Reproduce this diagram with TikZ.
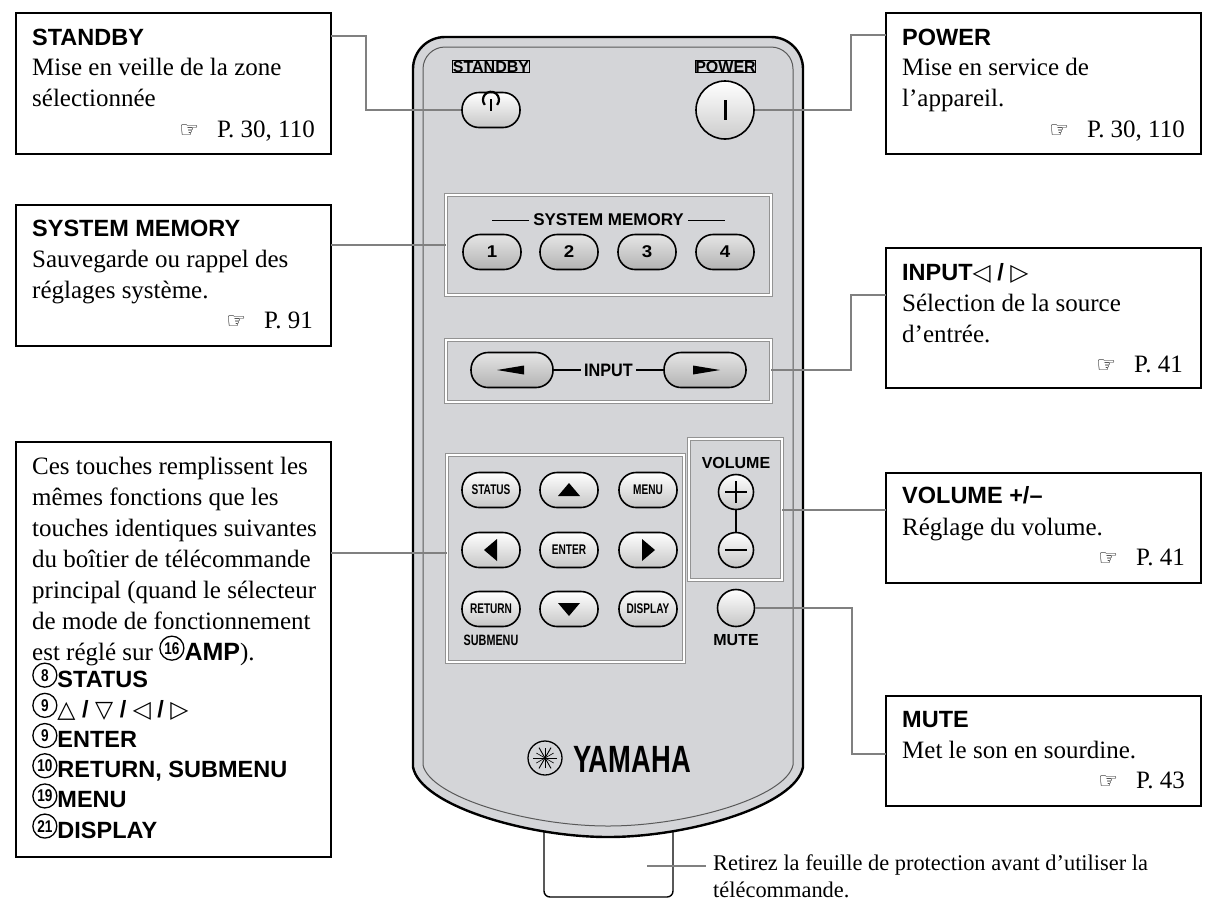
\documentclass[tikz,border=0pt]{standalone}
\usepackage{fontspec}
\setmainfont{Liberation Serif}
\setsansfont{Liberation Sans}
\newfontfamily\djv{DejaVu Sans}
\usetikzlibrary{calc}
\definecolor{rgray}{RGB}{212,213,216}
\definecolor{lead}{RGB}{128,128,128}
\newcommand{\cn}[1]{\tikz[x=1pt,y=1pt,baseline=-6pt]\node[circle,draw,line width=1.3pt,inner sep=0pt,minimum size=24pt,font=\fontsize{17}{17}\sffamily\bfseries]{\scalebox{0.8}[1]{#1}};}
\newcommand{\hand}{{\djv\fontsize{22}{22}\selectfont ☞}}
\newcommand{\cond}[1]{\scalebox{0.72}[1]{#1}}
\begin{document}
\begin{tikzpicture}[x=1pt,y=-1pt,
  box/.style={draw=black,line width=2pt},
  hd/.style={anchor=base west,inner sep=0,font=\fontsize{23.5}{28}\sffamily\bfseries},
  bd/.style={anchor=base west,inner sep=0,align=left,font=\fontsize{25}{31}\selectfont},
  rf/.style={anchor=base east,inner sep=0,font=\fontsize{25}{31}\selectfont},
  ld/.style={draw=lead,line width=2pt},
  panel/.style={draw=gray!85,line width=1.2pt,double=white,double distance=1.2pt},
  wbtn/.style={draw=black,line width=1.6pt,rounded corners=17pt,minimum width=58pt,minimum height=35pt,top color=white,bottom color=gray!45,font=\fontsize{14}{14}\sffamily\bfseries,inner sep=0},
  gbtn/.style={wbtn,top color=gray!20,bottom color=gray!60},
  rl/.style={inner sep=0,font=\fontsize{16}{16}\sffamily\bfseries}
]
\useasboundingbox (0,0) rectangle (1210,903);
% tab
\draw[line width=1.4pt,rounded corners=6pt,fill=white] (544,820) -- (544,897) -- (673,897) -- (673,820);
% remote body
\draw[line width=2.4pt,fill=rgray] (413,767) [rounded corners=32pt]-- (413,37) -- (803,37) [sharp corners]-- (803,767)
  .. controls (796,805) and (690,837) .. (608,837) .. controls (526,837) and (420,805) .. (413,767) -- cycle;
\draw[line width=1pt,gray!70!black] (423,765) [rounded corners=22pt]-- (423,47) -- (793,47) [sharp corners]-- (793,765)
  .. controls (786,797) and (688,826) .. (608,826) .. controls (528,826) and (430,797) .. (423,765);
% top buttons
\node[draw,line width=1pt,inner sep=1.5pt,rl] (lsb) at (491,66.5) {STANDBY};
\node[draw,line width=1pt,inner sep=1.5pt,rl] (lpw) at (725.5,66.5) {POWER};
\node[wbtn] (sb) at (491,110) {};
\draw[line width=2.2pt] ($(sb)+(6.1,-5.1)$) arc[start angle=-40,end angle=220,radius=8pt];
\draw[line width=2.2pt] ($(sb)+(0,-11)$) -- ($(sb)+(0,1)$);
\node[circle,draw=black,line width=1.6pt,minimum size=58pt,top color=white,bottom color=gray!40] (pw) at (725,110) {};
\draw[line width=3pt] ($(pw)+(0,-10)$) -- ($(pw)+(0,10)$);
% system memory panel
\draw[panel] (446,195) rectangle (771,295);
\node[rl,font=\fontsize{17}{17}\sffamily\bfseries] (smt) at (608.5,220) {SYSTEM MEMORY};
\draw[line width=1pt] ($(smt.west)+(-4,0)$) -- (492,220);
\draw[line width=1pt] ($(smt.east)+(4,0)$) -- (725,220);
\foreach \n/\x in {1/492,2/569,3/647,4/725}
  \node[gbtn,font=\fontsize{17}{17}\sffamily\bfseries] (m\n) at (\x,252) {\scalebox{1.1}[1]{\n}};
% input panel
\draw[panel] (446,340) rectangle (771,402);
\node[gbtn,minimum width=82pt] (il) at (512,370) {};
\node[gbtn,minimum width=82pt] (ir) at (705,370) {};
\fill ($(il)+(-15,0)$) -- ($(il)+(12,-4.5)$) -- ($(il)+(12,4.5)$) -- cycle;
\fill ($(ir)+(15,0)$) -- ($(ir)+(-12,-4.5)$) -- ($(ir)+(-12,4.5)$) -- cycle;
\node[rl,font=\fontsize{18}{18}\sffamily\bfseries] (it) at (608.5,370) {\scalebox{0.9}[1]{INPUT}};
\draw[line width=1.2pt] (il.east) -- ($(it.west)+(-3,0)$);
\draw[line width=1.2pt] ($(it.east)+(3,0)$) -- (ir.west);
% nav panel
\draw[panel] (447,455) rectangle (684,662);
\node[wbtn] (st) at (491,490) {\cond{STATUS}};
\node[wbtn] (up) at (569,490) {};
\node[wbtn] (mn) at (648,490) {\cond{MENU}};
\node[wbtn] (lf) at (491,550) {};
\node[wbtn] (en) at (569,550) {\cond{ENTER}};
\node[wbtn] (rt) at (648,550) {};
\node[wbtn] (re) at (491,609) {\cond{RETURN}};
\node[wbtn] (dn) at (569,609) {};
\node[wbtn] (dp) at (648,609) {\cond{DISPLAY}};
\fill ($(up)+(0,-7)$) -- ($(up)+(-11,6)$) -- ($(up)+(11,6)$) -- cycle;
\fill ($(dn)+(0,7)$) -- ($(dn)+(-11,-6)$) -- ($(dn)+(11,-6)$) -- cycle;
\fill ($(lf)+(-7,0)$) -- ($(lf)+(6,-11)$) -- ($(lf)+(6,11)$) -- cycle;
\fill ($(rt)+(7,0)$) -- ($(rt)+(-6,-11)$) -- ($(rt)+(-6,11)$) -- cycle;
\node[rl,font=\fontsize{15}{15}\sffamily\bfseries,anchor=base] (sm) at (491,645) {\cond{SUBMENU}};
% volume panel
\draw[panel] (689,439) rectangle (782,580);
\node[rl,anchor=base] (vt) at (736,468) {VOLUME};
\node[circle,draw=black,line width=1.6pt,minimum size=35pt,top color=white,bottom color=gray!45] (vp) at (736,492) {};
\node[circle,draw=black,line width=1.6pt,minimum size=35pt,top color=white,bottom color=gray!45] (vm) at (736,550) {};
\draw[line width=1.6pt] (vp) -- (vm);
\draw[line width=1.8pt] ($(vp)+(-11,0)$) -- ($(vp)+(11,0)$) ($(vp)+(0,-11)$) -- ($(vp)+(0,11)$);
\draw[line width=1.8pt] ($(vm)+(-11,0)$) -- ($(vm)+(11,0)$);
\node[circle,draw=black,line width=1.6pt,minimum size=37pt,top color=white,bottom color=gray!45] (mu) at (736,608) {};
\node[rl,anchor=base] (mt) at (736,645) {MUTE};
% yamaha
\node[circle,draw,line width=1.3pt,minimum size=34pt,inner sep=0] (lg) at (545,758) {};
\foreach \a in {0,60,120} \draw[line width=0.9pt] ($(lg)+(\a:12)$) -- ($(lg)+(\a+180:12)$);
\foreach \a in {30,90,150} \draw[line width=0.6pt] ($(lg)+(\a:10)$) -- ($(lg)+(\a+180:10)$);
\node[anchor=base west,inner sep=0,font=\fontsize{38}{38}\sffamily\bfseries] (ym) at (573,772) {\scalebox{0.72}[1]{YAMAHA}};
% left boxes (multi-line nodes: base = last line)
\draw[box] (16,13) rectangle (331,154);
\node[hd] (h1) at (32,45) {STANDBY};
\node[bd] (b1) at (32,106) {Mise en veille de la zone\\sélectionnée};
\node[rf] (r1) at (315,137) {\hand\hspace{18pt}P. 30, 110};
\draw[box] (16,205) rectangle (331,346);
\node[hd] (h2) at (32,236) {SYSTEM MEMORY};
\node[bd] (b2) at (32,298) {Sauvegarde ou rappel des\\réglages système.};
\node[rf] (r2) at (313,328) {\hand\hspace{18pt}P. 91};
\draw[box] (16,442) rectangle (331,857);
\node[bd] (b3) at (32,660) {Ces touches remplissent les\\mêmes fonctions que les\\touches identiques suivantes\\du boîtier de télécommande\\principal (quand le sélecteur\\de mode de fonctionnement\\est réglé sur \cn{16}{\sffamily\bfseries AMP}).};
\node[bd,font=\fontsize{23.5}{30.2}\sffamily\bfseries] (b4) at (32,838) {\cn{8}STATUS\\\cn{9}{\djv\mdseries △} / {\djv\mdseries ▽} / {\djv\mdseries ◁} / {\djv\mdseries ▷}\\\cn{9}ENTER\\\cn{10}RETURN, SUBMENU\\\cn{19}MENU\\\cn{21}DISPLAY};
% right boxes
\draw[box] (886,13) rectangle (1201,154);
\node[hd] (h5) at (902,45) {POWER};
\node[bd] (b5) at (902,106) {Mise en service de\\l’appareil.};
\node[rf] (r5) at (1185,137) {\hand\hspace{18pt}P. 30, 110};
\draw[box] (886,248) rectangle (1201,388);
\node[hd] (h6) at (902,280) {INPUT{\djv\mdseries ◁} / {\djv\mdseries ▷}};
\node[bd] (b6) at (902,342) {Sélection de la source\\d’entrée.};
\node[rf] (r6) at (1183,372) {\hand\hspace{18pt}P. 41};
\draw[box] (886,473) rectangle (1201,583);
\node[hd] (h7) at (902,503) {VOLUME +/–};
\node[bd] (b7) at (902,535) {Réglage du volume.};
\node[rf] (r7) at (1185,565) {\hand\hspace{18pt}P. 41};
\draw[box] (886,696) rectangle (1201,806);
\node[hd] (h8) at (902,727) {MUTE};
\node[bd] (b8) at (902,758) {Met le son en sourdine.};
\node[rf] (r8) at (1185,788) {\hand\hspace{18pt}P. 43};
% bottom note
\node[anchor=base west,inner sep=0,align=left,font=\fontsize{22.4}{27}\selectfont] (nt) at (713,897) {Retirez la feuille de protection avant d’utiliser la\\télécommande.};
% leaders
\coordinate (s1) at (331,36); \coordinate (p1) at (886,35);
\draw[ld] (s1) -- (366,36) -- (366,110) -- (sb.west);
\draw[ld] (p1) -- (851,35) -- (851,110) -- (pw.east);
\draw[ld] (331,245) -- (446,245);
\draw[ld] (886,295) -- (851,295) -- (851,370) -- (771,370);
\draw[ld] (331,553) -- (447,553);
\draw[ld] (782,510) -- (886,510);
\draw[ld] (mu.east) -- (852,608) -- (852,754) -- (886,754);
\draw[ld] (647,866) -- (706,866);
\end{tikzpicture}
\end{document}
